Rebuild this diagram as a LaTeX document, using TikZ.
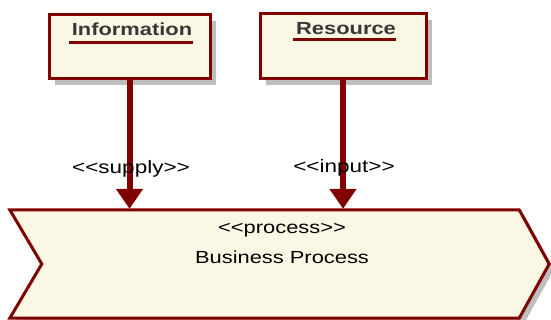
\documentclass[tikz,border=0pt]{standalone}
\usepackage{fontspec}
\setmainfont{Liberation Sans}[FakeStretch=1.25, Ligatures=TeXOff]
\usetikzlibrary{arrows.meta,shadows,calc}
\definecolor{umlred}{RGB}{128,0,0}
\definecolor{umlfill}{RGB}{250,248,228}
\definecolor{umlshadow}{RGB}{190,190,190}
\definecolor{titlegray}{RGB}{55,55,55}
\begin{document}
\begin{tikzpicture}[x=1pt,y=-1pt,
  classbox/.style={draw=umlred, line width=3pt, fill=umlfill, inner sep=0pt,
    drop shadow={shadow xshift=6pt, shadow yshift=-6pt, fill=umlshadow, opacity=1}},
  classtitle/.style={font=\fontsize{17.5}{20}\selectfont\bfseries, text=titlegray, inner sep=0pt},
  uline/.style={draw=umlred, line width=3pt},
  conn/.style={draw=umlred, line width=6pt, -{Triangle[length=20pt,width=26pt]}},
  lbl/.style={font=\fontsize{18}{20}\selectfont, text=black, inner sep=0pt},
  ptext/.style={font=\fontsize{17.5}{20}\selectfont, text=black, inner sep=0pt},
  procshape/.style={draw=umlred, line width=3pt, fill=umlfill,
    preaction={fill=umlshadow, transform canvas={shift={(5pt,-5pt)}}}}
]
\useasboundingbox (0,0) rectangle (551,320);

% class boxes
\node[classbox, minimum width=161pt, minimum height=64pt] (info) at (129.5,47) {};
\node[classbox, minimum width=166pt, minimum height=65pt] (res) at (343,46.5) {};

\node[classtitle] (infot) at (132,29.5) {Information};
\draw[uline] (69,43) -- (193,43);
\node[classtitle] (rest) at (346,28.5) {Resource};
\draw[uline] (293,40) -- (396,40);

% process chevron
\node[minimum width=539pt, minimum height=108pt, inner sep=0pt] (proc) at (279.5,264) {};
\path[procshape] (proc.north west) -- ($(proc.north east)+(-30,0)$) -- (proc.east)
  -- ($(proc.south east)+(-30,0)$) -- (proc.south west) -- ($(proc.west)+(32,0)$) -- cycle;
\node[ptext] (pster) at (282,230) {<<process>>};
\node[ptext] (pname) at (282,257) {Business Process};

% connectors
\draw[conn] (info.south) -- ($(info.south |- proc.north)+(0,-1)$);
\draw[conn] (res.south) -- ($(res.south |- proc.north)+(0,-1)$);

\node[lbl] (lsupply) at (131,169) {<<supply>>};
\node[lbl] (linput) at (344,168) {<<input>>};
\end{tikzpicture}
\end{document}
